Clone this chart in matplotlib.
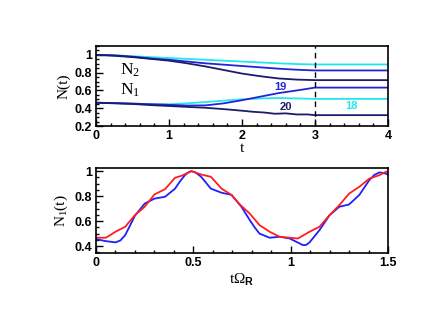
import matplotlib
matplotlib.use("Agg")
import matplotlib.pyplot as plt
from matplotlib.ticker import MultipleLocator

plt.rcParams["mathtext.fontset"] = "custom"
plt.rcParams["mathtext.rm"] = "Liberation Serif"
plt.rcParams["mathtext.it"] = "Liberation Serif:italic"
plt.rcParams["mathtext.bf"] = "Liberation Sans:bold"

# ---------------- data: top panel ----------------
t_top = [0.0, 0.25, 0.5, 0.75, 1.0, 1.25, 1.5, 1.75, 2.0, 2.25, 2.5, 2.75, 3.0, 4.0]
n2_18 = [1.0, 0.995, 0.985, 0.975, 0.965, 0.955, 0.945, 0.935, 0.925, 0.915, 0.905, 0.897, 0.892, 0.892]
n2_19 = [1.0, 0.995, 0.98, 0.96, 0.945, 0.925, 0.905, 0.89, 0.875, 0.86, 0.845, 0.833, 0.825, 0.825]
n2_20 = [1.0, 0.99, 0.975, 0.955, 0.935, 0.905, 0.87, 0.83, 0.79, 0.76, 0.735, 0.722, 0.716, 0.716]
n1_18 = [0.462, 0.458, 0.452, 0.445, 0.445, 0.455, 0.47, 0.485, 0.5, 0.51, 0.515, 0.51, 0.505, 0.505]
n1_19 = [0.462, 0.458, 0.452, 0.445, 0.438, 0.43, 0.432, 0.455, 0.49, 0.53, 0.57, 0.6, 0.632, 0.632]
t_n1_20 = [0.0, 0.25, 0.5, 0.75, 1.0, 1.25, 1.5, 1.75, 2.0, 2.15, 2.3, 2.45, 2.6, 2.75, 2.9, 3.0, 4.0]
n1_20 = [0.462, 0.455, 0.448, 0.435, 0.425, 0.415, 0.405, 0.39, 0.372, 0.36, 0.352, 0.338, 0.342, 0.33, 0.33, 0.322, 0.322]

labels_top = ["18", "19", "20"]

# ---------------- data: bottom panel ----------------
x_blue = [0.0, 0.05, 0.1, 0.125, 0.15, 0.175, 0.2, 0.25, 0.3, 0.355, 0.406, 0.43, 0.457, 0.475,
          0.49, 0.51, 0.54, 0.59, 0.645, 0.696, 0.747, 0.79, 0.815, 0.84, 0.892, 0.943, 0.995,
          1.035, 1.063, 1.08, 1.097, 1.148, 1.175, 1.2, 1.25, 1.3, 1.353, 1.404, 1.43, 1.456,
          1.49, 1.5]
y_blue = [0.456, 0.44, 0.43, 0.445, 0.488, 0.565, 0.643, 0.74, 0.78, 0.795, 0.86, 0.915, 0.968,
          0.99, 1.0, 0.99, 0.955, 0.86, 0.827, 0.81, 0.715, 0.608, 0.55, 0.50, 0.467, 0.475,
          0.461, 0.43, 0.408, 0.41, 0.43, 0.528, 0.59, 0.648, 0.715, 0.733, 0.81, 0.928, 0.97,
          0.99, 0.98, 0.97]
x_red = [0.0, 0.05, 0.073, 0.1, 0.15, 0.2, 0.25, 0.3, 0.355, 0.406, 0.44, 0.49, 0.54, 0.59,
         0.645, 0.696, 0.739, 0.79, 0.84, 0.892, 0.943, 0.995, 1.037, 1.097, 1.148, 1.2, 1.25,
         1.3, 1.353, 1.404, 1.456, 1.49, 1.5]
y_red = [0.467, 0.467, 0.488, 0.515, 0.555, 0.648, 0.715, 0.813, 0.856, 0.947, 0.963, 1.0,
         0.973, 0.955, 0.86, 0.81, 0.733, 0.66, 0.568, 0.515, 0.475, 0.467, 0.461, 0.515,
         0.555, 0.648, 0.728, 0.82, 0.875, 0.94, 0.968, 0.995, 0.995]

cyan = "#22e6f0"
blue = "#2323dc"
navy = "#1c1c6a"

fig = plt.figure(figsize=(4.30, 3.32), dpi=100)
W, H = 430.0, 332.0

def rect(l, r, t, b):
    return [l / W, 1 - b / H, (r - l) / W, (b - t) / H]

lab_font = dict(family="Liberation Serif", size=11)

def style(ax):
    ax.tick_params(which="both", direction="in", top=False, right=False, width=1.0)
    ax.tick_params(which="major", length=5, pad=3)
    ax.tick_params(which="minor", length=2.5)
    for s in ax.spines.values():
        s.set_linewidth(1.2)
    for lbl in ax.get_xticklabels() + ax.get_yticklabels():
        lbl.set_fontfamily("Liberation Sans")
        lbl.set_fontweight("bold")
        lbl.set_fontsize(9)

# ---- top ----
ax1 = fig.add_axes(rect(96, 388, 46, 126))
lw = 1.3
ax1.plot(t_top, n2_18, color=cyan, lw=lw)
ax1.plot(t_top, n1_18, color=cyan, lw=lw)
ax1.plot(t_top, n2_19, color=blue, lw=lw)
ax1.plot(t_top, n1_19, color=blue, lw=lw)
ax1.plot(t_top, n2_20, color=navy, lw=lw)
ax1.plot(t_n1_20, n1_20, color=navy, lw=lw)
ax1.axvline(3.0, color="black", lw=1.0, ls=(0, (4, 3)))
ax1.set_xlim(0, 4)
ax1.set_ylim(0.2, 1.1)
ax1.xaxis.set_major_locator(MultipleLocator(1))
ax1.xaxis.set_minor_locator(MultipleLocator(0.2))
ax1.yaxis.set_minor_locator(MultipleLocator(0.05))
ax1.set_yticks([0.2, 0.4, 0.6, 0.8, 1.0])
ax1.set_yticklabels(["0.2", "0.4", "0.6", "0.8", "1"])
style(ax1)
ax1.set_xlabel("t", fontdict=lab_font, labelpad=0)
ax1.set_ylabel("N(t)", fontdict=lab_font, labelpad=3)
ax1.text(0.47, 0.83, "N$_2$", fontsize=12.5, family="Liberation Serif", ha="center", va="center")
ax1.text(0.47, 0.6, "N$_1$", fontsize=12.5, family="Liberation Serif", ha="center", va="center")
ax1.text(2.52, 0.64, labels_top[1], color=blue, fontsize=8, family="Liberation Sans", weight="bold", ha="center", va="center")
ax1.text(2.6, 0.415, labels_top[2], color=navy, fontsize=8, family="Liberation Sans", weight="bold", ha="center", va="center")
ax1.text(3.5, 0.43, labels_top[0], color=cyan, fontsize=8, family="Liberation Sans", weight="bold", ha="center", va="center")

# ---- bottom ----
ax2 = fig.add_axes(rect(96, 388, 168, 253))
ax2.plot(x_blue, y_blue, color="#1e1eff", lw=1.3)
ax2.plot(x_red, y_red, color="#ff1e1e", lw=1.3)
ax2.set_xlim(0, 1.5)
ax2.set_ylim(0.345, 1.025)
ax2.xaxis.set_minor_locator(MultipleLocator(0.1))
ax2.yaxis.set_minor_locator(MultipleLocator(0.05))
ax2.set_xticks([0, 0.5, 1.0, 1.5])
ax2.set_xticklabels(["0", "0.5", "1", "1.5"])
ax2.set_yticks([0.4, 0.6, 0.8, 1.0])
ax2.set_yticklabels(["0.4", "0.6", "0.8", "1"])
style(ax2)
ax2.set_xlabel(r"tΩ$_{\mathbf{R}}$", fontdict=lab_font, labelpad=2)
ax2.set_ylabel("N$_1$(t)", fontdict=lab_font, labelpad=3)

fig.savefig("out.png", dpi=100)
